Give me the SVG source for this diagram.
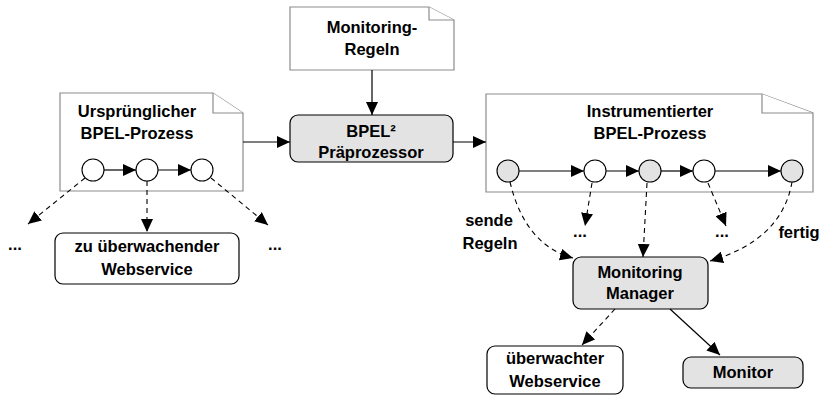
<svg xmlns="http://www.w3.org/2000/svg" width="820" height="396" viewBox="0 0 820 396">
<defs>
<style>
text{font-family:"Liberation Sans",Arial,sans-serif;font-weight:bold;font-size:16.5px;fill:#000;text-anchor:middle}
.doc{fill:#fff;stroke:#8c8c8c;stroke-width:1.2}
.box{fill:#fff;stroke:#000;stroke-width:1.2}
.gbox{fill:#e3e3e3;stroke:#000;stroke-width:1.2}
.c{fill:#fff;stroke:#000;stroke-width:1.1}
.gc{fill:#e3e3e3;stroke:#000;stroke-width:1.1}
.ln{fill:none;stroke:#000;stroke-width:1.2}
.dl{fill:none;stroke:#000;stroke-width:1.1;stroke-dasharray:5,4}
</style>
<marker id="ah" markerUnits="userSpaceOnUse" markerWidth="14" markerHeight="12" viewBox="0 0 14 12" refX="13" refY="6" orient="auto">
<path d="M0,0 L13,6 L0,12 Z" fill="#000"/>
</marker>
</defs>

<g id="doc-orig">
<path class="doc" d="M60,93 H213 L243,113 V191 H60 Z"/>
<path class="doc" d="M213,93 V113 H243" fill="none"/>
<text x="137" y="117">Ursprünglicher</text>
<text x="137" y="139">BPEL-Prozess</text>
<circle class="c" cx="93" cy="170" r="11"/>
<circle class="c" cx="147" cy="170" r="11"/>
<circle class="c" cx="202" cy="170" r="11"/>
</g>

<g id="doc-rules">
<path class="doc" d="M290,7 H429 L454,20 V70 H290 Z"/>
<path class="doc" d="M429,7 V20 H454" fill="none"/>
<text x="372" y="33">Monitoring-</text>
<text x="372" y="55">Regeln</text>
</g>

<g id="preprocessor">
<rect class="gbox" x="290" y="115" width="163" height="47" rx="8"/>
<text x="371" y="137">BPEL²</text>
<text x="371" y="158">Präprozessor</text>
</g>

<g id="doc-instr">
<path class="doc" d="M486,94 H762 L813,113 V192 H486 Z"/>
<path class="doc" d="M762,94 V113 H813" fill="none"/>
<text x="650" y="117">Instrumentierter</text>
<text x="650" y="139">BPEL-Prozess</text>
<circle class="gc" cx="508" cy="171" r="11"/>
<circle class="c" cx="595" cy="171" r="11"/>
<circle class="gc" cx="650" cy="171" r="11"/>
<circle class="c" cx="704" cy="171" r="11"/>
<circle class="gc" cx="792" cy="171" r="11"/>
</g>

<g id="ws-left">
<rect class="box" x="55" y="233" width="184" height="51" rx="8"/>
<text x="147" y="252">zu überwachender</text>
<text x="147" y="275">Webservice</text>
</g>

<g id="manager">
<rect class="gbox" x="573" y="257" width="135" height="52" rx="8"/>
<text x="640" y="278">Monitoring</text>
<text x="640" y="299">Manager</text>
</g>

<g id="ws-right">
<rect class="box" x="487" y="346" width="136" height="48" rx="8"/>
<text x="555" y="364">überwachter</text>
<text x="555" y="387">Webservice</text>
</g>

<g id="monitor">
<rect class="gbox" x="683" y="357" width="120" height="31" rx="8"/>
<text x="743" y="378">Monitor</text>
</g>

<g id="labels">
<text x="15" y="250">...</text>
<text x="275" y="250">...</text>
<text x="580" y="237">...</text>
<text x="722" y="237">...</text>
<text x="489" y="226">sende</text>
<text x="490" y="249">Regeln</text>
<text x="799" y="238">fertig</text>
</g>

<g id="connectors">
<path class="ln" d="M104,170 H136" marker-end="url(#ah)"/>
<path class="ln" d="M158,170 H191" marker-end="url(#ah)"/>
<path class="dl" d="M85,178 L28,224" marker-end="url(#ah)"/>
<path class="dl" d="M147,181 V232" marker-end="url(#ah)"/>
<path class="dl" d="M211,178 L268,225" marker-end="url(#ah)"/>
<path class="ln" d="M243,142 H290" marker-end="url(#ah)"/>
<path class="ln" d="M372,70 V115" marker-end="url(#ah)"/>
<path class="ln" d="M453,142 H486" marker-end="url(#ah)"/>
<path class="ln" d="M519,171 H584" marker-end="url(#ah)"/>
<path class="ln" d="M606,171 H639" marker-end="url(#ah)"/>
<path class="ln" d="M661,171 H693" marker-end="url(#ah)"/>
<path class="ln" d="M715,171 H781" marker-end="url(#ah)"/>
<path class="dl" d="M510,182 Q525,245 573,258" marker-end="url(#ah)"/>
<path class="dl" d="M592,183 L585,226" marker-end="url(#ah)"/>
<path class="dl" d="M647,183 L643,257" marker-end="url(#ah)"/>
<path class="dl" d="M708,183 L726,226" marker-end="url(#ah)"/>
<path class="dl" d="M792,182 Q782,240 710,261" marker-end="url(#ah)"/>
<path class="dl" d="M615,309 L582,345" marker-end="url(#ah)"/>
<path class="ln" d="M670,309 L720,355" marker-end="url(#ah)"/>
</g>
</svg>
